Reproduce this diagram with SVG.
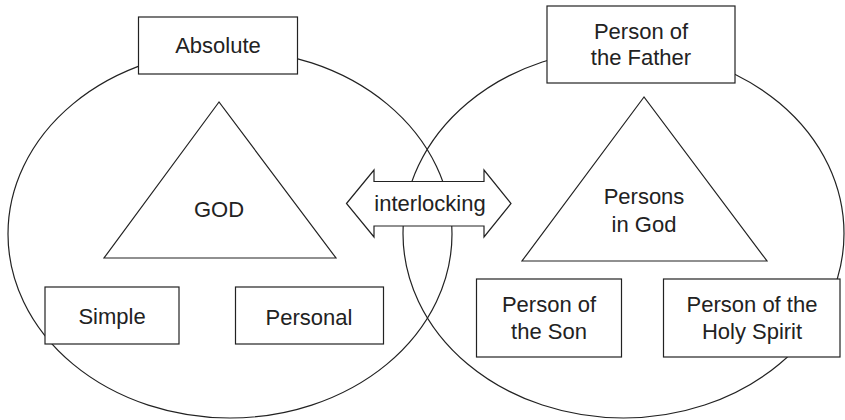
<svg xmlns="http://www.w3.org/2000/svg" width="845" height="420" viewBox="0 0 845 420">
<style>
.ln{fill:none;stroke:#222;stroke-width:1.2}
.bx{fill:#fff;stroke:#222;stroke-width:1.2}
.tri{fill:none;stroke:#222;stroke-width:1.2;stroke-linejoin:miter}
text{font-family:"Liberation Sans",Arial,Helvetica,sans-serif;font-size:22px;fill:#222;text-anchor:middle}
</style>
<rect width="845" height="420" fill="#fff"/>
<g id="circles">
<ellipse id="left-circle" class="ln" cx="230" cy="234" rx="222" ry="184"/>
<ellipse id="right-circle" class="ln" cx="623.5" cy="233.5" rx="220.5" ry="184.5"/>
</g>
<g id="god">
<polygon class="tri" points="219,102 104,258 336,258"/>
<text x="219" y="217">GOD</text>
</g>
<g id="persons-in-god">
<polygon class="tri" points="644,97 522,261 767,261"/>
<text x="644" y="204">Persons</text>
<text x="644" y="232">in God</text>
</g>
<g id="absolute">
<rect class="bx" x="138.5" y="17" width="159" height="57"/>
<text x="218" y="53">Absolute</text>
</g>
<g id="father">
<rect class="bx" x="547" y="6" width="188" height="77"/>
<text x="641" y="38.5">Person of</text>
<text x="641" y="65">the Father</text>
</g>
<g id="simple">
<rect class="bx" x="45" y="287" width="134" height="57"/>
<text x="112" y="324">Simple</text>
</g>
<g id="personal">
<rect class="bx" x="235.5" y="287" width="148" height="57"/>
<text x="309" y="325">Personal</text>
</g>
<g id="son">
<rect class="bx" x="476.5" y="279" width="145" height="78"/>
<text x="549" y="311.5">Person of</text>
<text x="549" y="339">the Son</text>
</g>
<g id="holy-spirit">
<rect class="bx" x="663.5" y="279" width="176.5" height="78"/>
<text x="752" y="311.5">Person of the</text>
<text x="752" y="339">Holy Spirit</text>
</g>
<g id="connectors">
<g id="interlocking">
<polygon class="bx" points="346.5,203.5 374,170 374,181.5 484,181.5 484,170 511,203.5 484,237 484,226 374,226 374,237"/>
<text x="430" y="211">interlocking</text>
</g>
</g>
</svg>
